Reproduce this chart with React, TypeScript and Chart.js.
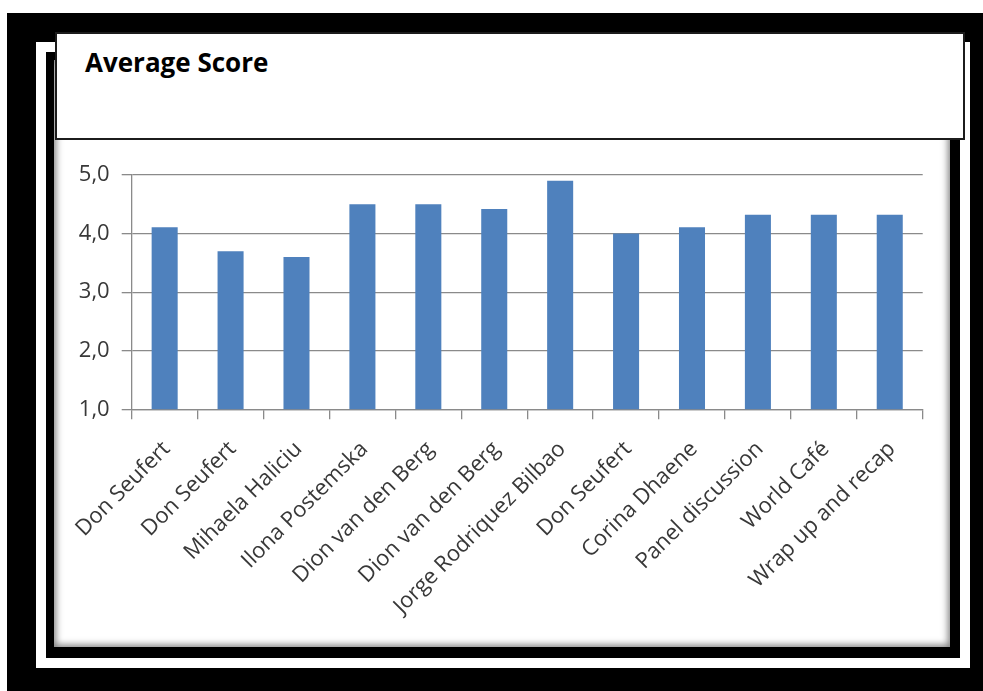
import React, { useEffect, useRef } from "react";
import { Chart, registerables } from "chart.js";

Chart.register(...registerables);

const chartTitle = "Average Score";
const categories = [
  "Don Seufert",
  "Don Seufert",
  "Mihaela Haliciu",
  "Ilona Postemska",
  "Dion van den Berg",
  "Dion van den Berg",
  "Jorge Rodriquez Bilbao",
  "Don Seufert",
  "Corina Dhaene",
  "Panel discussion",
  "World Café",
  "Wrap up and recap",
];
const averageScores = [4.11, 3.7, 3.6, 4.5, 4.5, 4.42, 4.9, 4.0, 4.11, 4.32, 4.32, 4.32];
const yMin = 1;
const yMax = 5;
const yStep = 1;

const GRID = "#8a8a8a";
const LABEL = "#383838";
const BAR = "#4F81BD";
const FONT = "'Open Sans', 'DejaVu Sans', sans-serif";

export default function App() {
  const canvasRef = useRef<HTMLCanvasElement | null>(null);

  useEffect(() => {
    const canvas = canvasRef.current;
    if (!canvas) return;
    const chart = new Chart(canvas, {
      type: "bar",
      data: {
        labels: categories,
        datasets: [
          {
            label: chartTitle,
            data: averageScores,
            backgroundColor: BAR,
            borderWidth: 0,
            categoryPercentage: 1,
            barPercentage: 0.395,
          },
        ],
      },
      options: {
        responsive: false,
        animation: false,
        devicePixelRatio: 1,
        layout: { padding: { left: 0, right: 23.3, top: 35, bottom: 0 } },
        plugins: {
          legend: { display: false },
          tooltip: { enabled: false },
          title: { display: false },
        },
        scales: {
          x: {
            grid: {
              display: true,
              drawOnChartArea: false,
              drawTicks: true,
              tickLength: 10,
              color: GRID,
              lineWidth: 1.3,
              offset: true,
            },
            border: { display: true, color: GRID, width: 1.3 },
            ticks: {
              autoSkip: false,
              minRotation: 45,
              maxRotation: 45,
              padding: 17,
              labelOffset: 2,
              color: LABEL,
              font: { family: FONT, size: 22 },
            },
            afterFit: (s: any) => {
              s.height = 235.7;
            },
          },
          y: {
            min: yMin,
            max: yMax,
            ticks: {
              stepSize: yStep,
              padding: 12,
              color: LABEL,
              font: { family: FONT, size: 22 },
              callback: (v: any) => Number(v).toFixed(1).replace(".", ","),
            },
            grid: { color: GRID, lineWidth: 1.3, tickLength: 10, drawTicks: true },
            border: { display: true, color: GRID, width: 1.3 },
            afterFit: (s: any) => {
              s.width = 75.7;
            },
          },
        },
      },
    });
    return () => chart.destroy();
  }, []);

  const abs = (l: number, t: number, w: number, h: number, extra: any = {}) => ({
    position: "absolute" as const,
    left: l,
    top: t,
    width: w,
    height: h,
    boxSizing: "border-box" as const,
    ...extra,
  });

  return (
    <div style={{ position: "absolute", left: 0, top: 0, width: 983, height: 691, overflow: "hidden", background: "#fff" }}>
      <div style={abs(7, 13, 976, 678, { background: "#000" })} />
      <div style={abs(36, 42, 934, 626, { background: "#fff" })} />
      <div style={abs(46, 52, 914, 606, { background: "#000" })} />
      <div
        style={abs(54, 60, 896, 587, {
          background: "#fff",
          boxShadow: "inset 0 0 7px 2px rgba(0,0,0,0.5)",
        })}
      />
      <canvas
        ref={canvasRef}
        width={890}
        height={505}
        style={{ position: "absolute", left: 56, top: 140, width: 890, height: 505 }}
      />
      <div
        style={abs(55, 32, 910, 108, {
          background: "#fff",
          border: "2px solid #1c1c1c",
        })}
      />
      <div
        style={{
          position: "absolute",
          left: 85,
          top: 49,
          fontFamily: FONT,
          fontWeight: 700,
          fontSize: 26,
          lineHeight: "26px",
          color: "#000",
          whiteSpace: "nowrap",
        }}
      >
        {chartTitle}
      </div>
    </div>
  );
}
